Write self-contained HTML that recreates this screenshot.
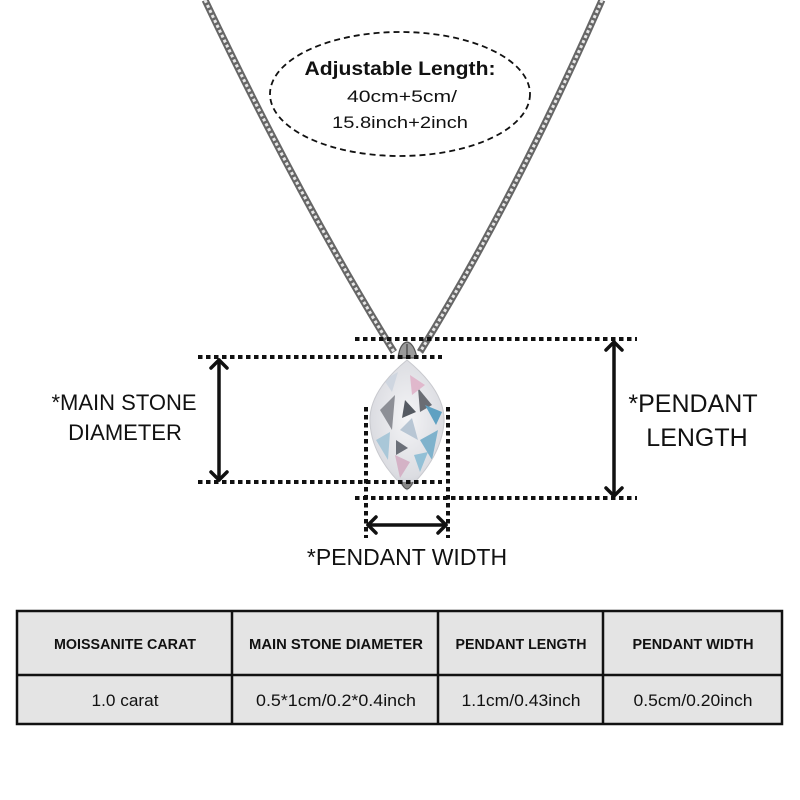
<!DOCTYPE html>
<html><head><meta charset="utf-8"><style>
html,body{margin:0;padding:0;background:#fff;}
svg{display:block;}
text{font-family:"Liberation Sans",Arial,sans-serif;fill:#111;}
</style></head><body>
<svg width="800" height="800" viewBox="0 0 800 800" xmlns="http://www.w3.org/2000/svg">
<defs>
<radialGradient id="sg" cx="50%" cy="45%" r="60%">
<stop offset="0" stop-color="#f4f4f6"/><stop offset="0.7" stop-color="#dcdde2"/><stop offset="1" stop-color="#b9bcc4"/>
</radialGradient>
<clipPath id="stone"><path d="M407,360 Q446,392 444,423 Q441,458 407,490 Q372,458 370,423 Q368,392 407,360 Z"/></clipPath>
</defs>
<rect width="800" height="800" fill="#fff"/>

<!-- chain -->
<g fill="none" stroke-linejoin="round">
<path d="M205,0 Q300,200 394,352" stroke="#666" stroke-width="7"/>
<path d="M205,0 Q300,200 394,352" stroke="#e6e6e6" stroke-width="3" stroke-dasharray="3 2.5"/>
<path d="M602,0 Q514,200 420,352" stroke="#666" stroke-width="7"/>
<path d="M602,0 Q514,200 420,352" stroke="#e6e6e6" stroke-width="3" stroke-dasharray="3 2.5"/>
</g>

<!-- ellipse -->
<ellipse cx="400" cy="94" rx="130" ry="62" fill="#fff" stroke="#111" stroke-width="1.8" stroke-dasharray="6 4"/>
<text x="400" y="75" font-size="19" font-weight="bold" text-anchor="middle" textLength="191" lengthAdjust="spacingAndGlyphs">Adjustable Length:</text>
<text x="402" y="102" font-size="17" text-anchor="middle" textLength="110" lengthAdjust="spacingAndGlyphs">40cm+5cm/</text>
<text x="400" y="128" font-size="17" text-anchor="middle" textLength="136" lengthAdjust="spacingAndGlyphs">15.8inch+2inch</text>

<!-- bail -->
<path d="M398,358 Q400,343 407,342 Q414,343 417,358 Z" fill="#9a9a9a" stroke="#555" stroke-width="1.2"/>
<path d="M407,344 L407,358" stroke="#444" stroke-width="1.2"/>

<!-- stone -->
<g clip-path="url(#stone)">
<rect x="365" y="355" width="85" height="140" fill="url(#sg)"/>
<polygon points="380,410 395,395 392,430" fill="#8d8f96"/>
<polygon points="418,388 432,405 420,412" fill="#6a6d74"/>
<polygon points="400,430 412,418 418,440" fill="#b8c6d4"/>
<polygon points="376,440 390,432 388,460" fill="#a9c7d8"/>
<polygon points="420,440 438,430 432,460" fill="#7fb2cc"/>
<polygon points="425,405 442,412 436,425" fill="#5fa1c2"/>
<polygon points="410,375 425,385 412,395" fill="#e0b8cc"/>
<polygon points="395,455 410,462 400,478" fill="#d4b2c6"/>
<polygon points="405,400 416,412 402,418" fill="#555a62"/>
<polygon points="384,380 398,372 392,392" fill="#cfd6e0"/>
<polygon points="396,440 408,448 396,455" fill="#6b6f78"/>
<polygon points="414,455 428,452 420,472" fill="#93c0d6"/>
</g>
<path d="M407,360 Q446,392 444,423 Q441,458 407,490 Q372,458 370,423 Q368,392 407,360 Z" fill="none" stroke="#c8c9ce" stroke-width="1"/>
<path d="M401,482 Q407,496 413,482" fill="#888" stroke="#555" stroke-width="1"/>

<!-- dotted guide lines -->
<g stroke="#111" stroke-width="4" stroke-dasharray="4.5 3.5" fill="none">
<line x1="355" y1="339" x2="637" y2="339"/>
<line x1="198" y1="357" x2="442" y2="357"/>
<line x1="198" y1="482" x2="442" y2="482"/>
<line x1="355" y1="498" x2="637" y2="498"/>
<line x1="366" y1="407" x2="366" y2="538"/>
<line x1="448" y1="407" x2="448" y2="538"/>
</g>

<!-- arrows -->
<g stroke="#111" stroke-width="3.5" fill="none" stroke-linecap="round" stroke-linejoin="round">
<line x1="219" y1="360" x2="219" y2="480"/>
<polyline points="211,368 219,360 227,368"/>
<polyline points="211,472 219,480 227,472"/>
<line x1="614" y1="342" x2="614" y2="496"/>
<polyline points="606,350 614,342 622,350"/>
<polyline points="606,488 614,496 622,488"/>
<line x1="368" y1="525" x2="446" y2="525"/>
<polyline points="376,517 368,525 376,533"/>
<polyline points="438,517 446,525 438,533"/>
</g>

<!-- labels -->
<text x="124" y="410" font-size="22" text-anchor="middle">*MAIN STONE</text>
<text x="125" y="440" font-size="22" text-anchor="middle">DIAMETER</text>
<text x="693" y="412" font-size="25" text-anchor="middle">*PENDANT</text>
<text x="697" y="446" font-size="25" text-anchor="middle">LENGTH</text>
<text x="407" y="565" font-size="23" text-anchor="middle">*PENDANT WIDTH</text>

<!-- table -->
<rect x="17" y="611" width="765" height="113" fill="#e4e4e4"/>
<g stroke="#111" stroke-width="2.5" fill="none">
<rect x="17" y="611" width="765" height="113"/>
<line x1="17" y1="675" x2="782" y2="675"/>
<line x1="232" y1="611" x2="232" y2="724"/>
<line x1="438" y1="611" x2="438" y2="724"/>
<line x1="603" y1="611" x2="603" y2="724"/>
</g>
<g font-size="14.5" font-weight="bold" text-anchor="middle">
<text x="125" y="649" textLength="142" lengthAdjust="spacingAndGlyphs">MOISSANITE CARAT</text>
<text x="336" y="649" textLength="174" lengthAdjust="spacingAndGlyphs">MAIN STONE DIAMETER</text>
<text x="521" y="649" textLength="131" lengthAdjust="spacingAndGlyphs">PENDANT LENGTH</text>
<text x="693" y="649" textLength="121" lengthAdjust="spacingAndGlyphs">PENDANT WIDTH</text>
</g>
<g font-size="16.5" text-anchor="middle">
<text x="125" y="706" textLength="67" lengthAdjust="spacingAndGlyphs">1.0 carat</text>
<text x="336" y="706" textLength="160" lengthAdjust="spacingAndGlyphs">0.5*1cm/0.2*0.4inch</text>
<text x="521" y="706" textLength="119" lengthAdjust="spacingAndGlyphs">1.1cm/0.43inch</text>
<text x="693" y="706" textLength="119" lengthAdjust="spacingAndGlyphs">0.5cm/0.20inch</text>
</g>
</svg>
</body></html>
